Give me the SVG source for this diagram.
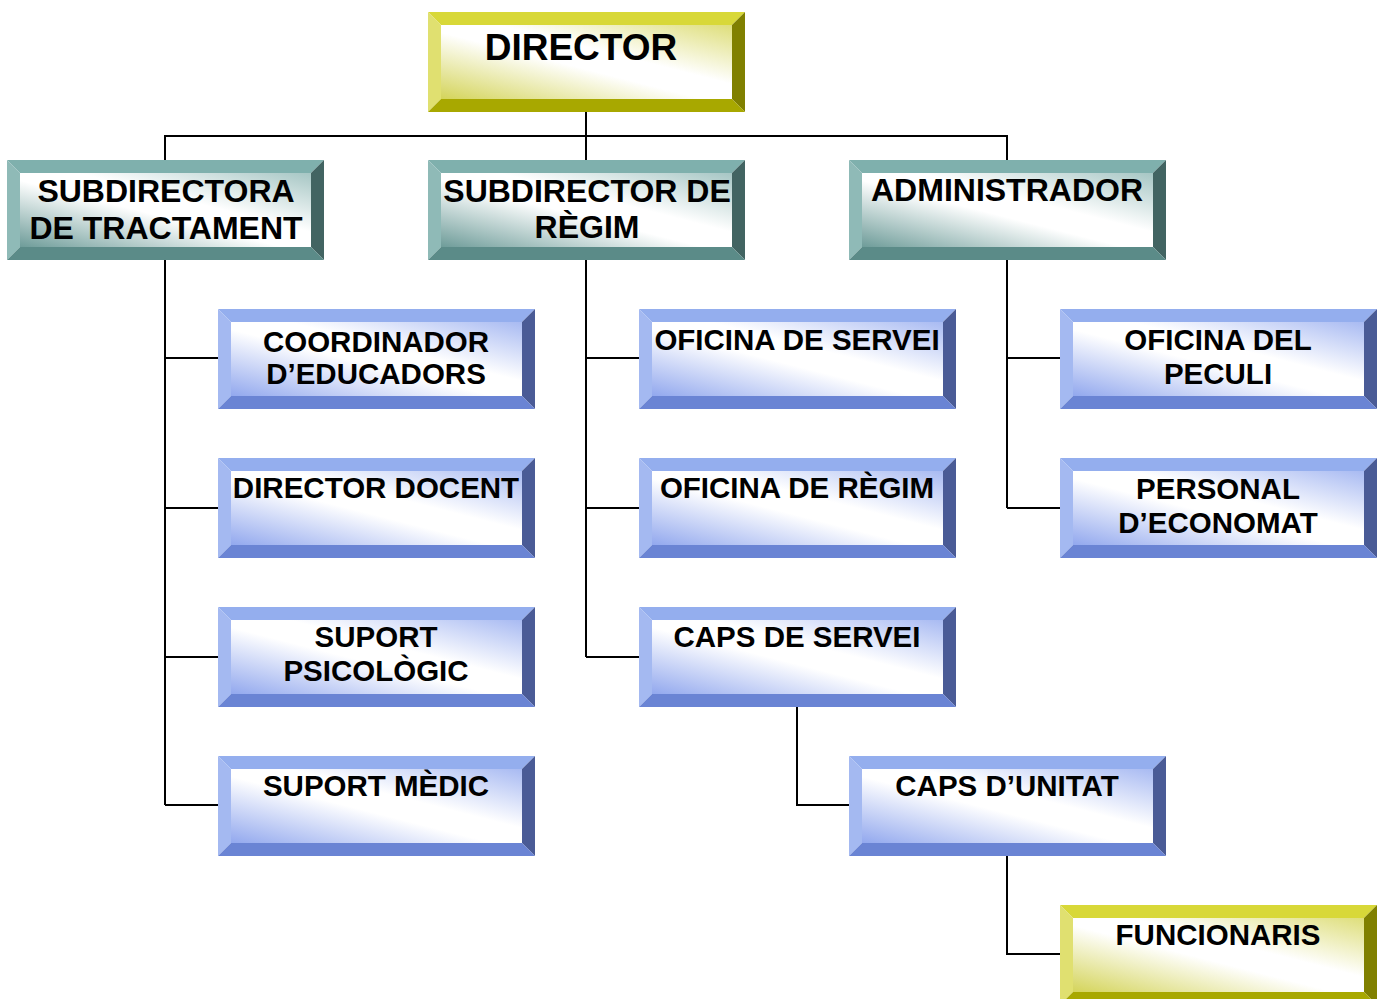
<svg xmlns="http://www.w3.org/2000/svg" xmlns:xlink="http://www.w3.org/1999/xlink" width="1385" height="999" viewBox="0 0 1385 999">
<style>
text{font-family:"Liberation Sans",Arial,sans-serif;font-weight:bold;fill:#000;text-anchor:middle}
.t1{font-size:37px}
.t2{font-size:32px}
.t3{font-size:29.5px}
.conn{fill:none;stroke:#000;stroke-width:2}
</style>
<defs>
<linearGradient id="gY" x1="0" y1="1" x2="1" y2="0">
<stop offset="0" stop-color="#d4d45a"/><stop offset="0.45" stop-color="#ffffff"/><stop offset="0.6" stop-color="#ffffff"/><stop offset="1" stop-color="#dede7a"/>
</linearGradient>
<linearGradient id="gT" x1="0" y1="1" x2="1" y2="0">
<stop offset="0" stop-color="#6e9c99"/><stop offset="0.45" stop-color="#ffffff"/><stop offset="0.6" stop-color="#ffffff"/><stop offset="1" stop-color="#a6c6c4"/>
</linearGradient>
<linearGradient id="gB" x1="0" y1="1" x2="1" y2="0">
<stop offset="0" stop-color="#92a8ee"/><stop offset="0.45" stop-color="#ffffff"/><stop offset="0.6" stop-color="#ffffff"/><stop offset="1" stop-color="#a8baf2"/>
</linearGradient>
<g id="boxY">
<polygon points="0,0 317,0 304,13 13,13" fill="#d8d838"/>
<polygon points="0,0 13,13 13,87 0,100" fill="#e0e070"/>
<polygon points="317,0 317,100 304,87 304,13" fill="#808000"/>
<polygon points="0,100 13,87 304,87 317,100" fill="#a8a800"/>
<rect x="13" y="13" width="291" height="74" fill="url(#gY)"/>
</g>
<g id="boxT">
<polygon points="0,0 317,0 304,13 13,13" fill="#7fb0ad"/>
<polygon points="0,0 13,13 13,87 0,100" fill="#8fbab7"/>
<polygon points="317,0 317,100 304,87 304,13" fill="#426462"/>
<polygon points="0,100 13,87 304,87 317,100" fill="#5b8b88"/>
<rect x="13" y="13" width="291" height="74" fill="url(#gT)"/>
</g>
<g id="boxB">
<polygon points="0,0 317,0 304,13 13,13" fill="#94aeee"/>
<polygon points="0,0 13,13 13,87 0,100" fill="#a4b9f1"/>
<polygon points="317,0 317,100 304,87 304,13" fill="#4a5b96"/>
<polygon points="0,100 13,87 304,87 317,100" fill="#6a84d4"/>
<rect x="13" y="13" width="291" height="74" fill="url(#gB)"/>
</g>
</defs>
<rect width="1385" height="999" fill="#ffffff"/>
<g id="connectors" class="conn">
<path d="M586,111 V136 M165,160 V136 H1007 V160 M586,136 V160"/>
<path d="M165,260 V805 M165,358 H218 M165,508 H218 M165,657 H218 M165,805 H218"/>
<path d="M586,260 V657 M586,358 H639 M586,508 H639 M586,657 H639"/>
<path d="M1007,260 V508 M1007,358 H1060 M1007,508 H1060"/>
<path d="M797,707 V805 H849"/>
<path d="M1007,856 V954 H1060"/>
</g>
<g id="n-director"><use href="#boxY" x="428" y="12"/><text class="t1" x="581" y="60">DIRECTOR</text></g>
<g id="n-subdir-tract"><use href="#boxT" x="7" y="160"/><text class="t2" x="166" y="202">SUBDIRECTORA</text><text class="t2" x="166" y="239">DE TRACTAMENT</text></g>
<g id="n-subdir-regim"><use href="#boxT" x="428" y="160"/><text class="t2" x="587" y="202">SUBDIRECTOR DE</text><text class="t2" x="587" y="238">RÈGIM</text></g>
<g id="n-admin"><use href="#boxT" x="849" y="160"/><text class="t2" x="1007" y="201">ADMINISTRADOR</text></g>
<g id="n-coord"><use href="#boxB" x="218" y="309"/><text class="t3" x="376" y="352">COORDINADOR</text><text class="t3" x="376" y="384">D’EDUCADORS</text></g>
<g id="n-docent"><use href="#boxB" x="218" y="458"/><text class="t3" x="376" y="498">DIRECTOR DOCENT</text></g>
<g id="n-psico"><use href="#boxB" x="218" y="607"/><text class="t3" x="376" y="647">SUPORT</text><text class="t3" x="376" y="681">PSICOLÒGIC</text></g>
<g id="n-medic"><use href="#boxB" x="218" y="756"/><text class="t3" x="376" y="796">SUPORT MÈDIC</text></g>
<g id="n-of-servei"><use href="#boxB" x="639" y="309"/><text class="t3" x="797" y="350">OFICINA DE SERVEI</text></g>
<g id="n-of-regim"><use href="#boxB" x="639" y="458"/><text class="t3" x="797" y="498">OFICINA DE RÈGIM</text></g>
<g id="n-caps-servei"><use href="#boxB" x="639" y="607"/><text class="t3" x="797" y="647">CAPS DE SERVEI</text></g>
<g id="n-caps-unitat"><use href="#boxB" x="849" y="756"/><text class="t3" x="1007" y="796">CAPS D’UNITAT</text></g>
<g id="n-peculi"><use href="#boxB" x="1060" y="309"/><text class="t3" x="1218" y="350">OFICINA DEL</text><text class="t3" x="1218" y="384">PECULI</text></g>
<g id="n-economat"><use href="#boxB" x="1060" y="458"/><text class="t3" x="1218" y="499">PERSONAL</text><text class="t3" x="1218" y="533">D’ECONOMAT</text></g>
<g id="n-funcionaris"><use href="#boxY" x="1060" y="905"/><text class="t3" x="1218" y="945">FUNCIONARIS</text></g>
</svg>
